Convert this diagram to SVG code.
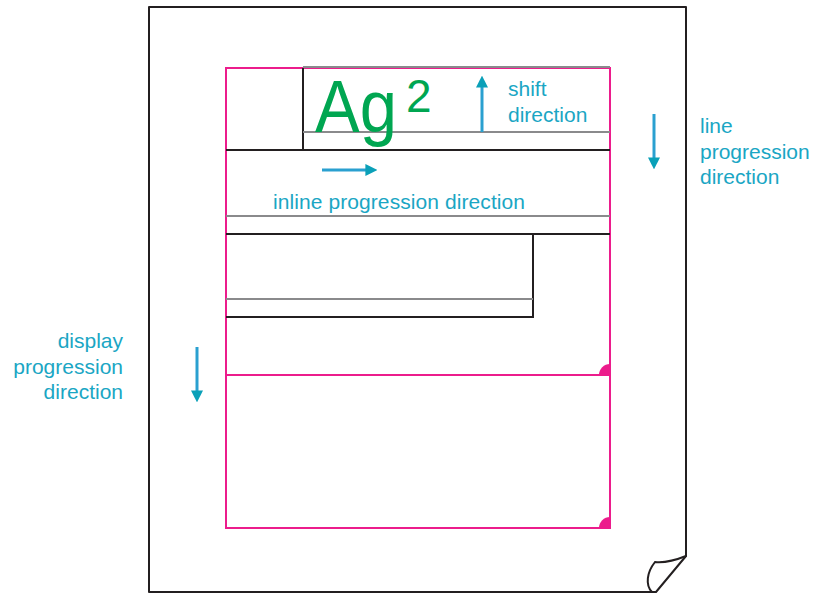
<svg xmlns="http://www.w3.org/2000/svg" width="815" height="594" viewBox="0 0 815 594">
  <defs>
    <style>
      .page { fill: #ffffff; stroke: #231f20; stroke-width: 2; stroke-linejoin: round; }
      .curl { fill: none; stroke: #231f20; stroke-width: 2; stroke-linecap: round; }
      .area { fill: none; stroke: #ec1c8c; stroke-width: 2; }
      .corner { fill: #ec1c8c; }
      .blk { fill: none; stroke: #231f20; stroke-width: 2; }
      .base { fill: none; stroke: #8a8a8c; stroke-width: 2; }
      .arrow { fill: none; stroke: #2aa0d0; stroke-width: 3; marker-end: url(#head); }
      .lbl { font-family: "Liberation Sans", Arial, sans-serif; font-size: 21px; fill: #1aa6c4; }
      .glyph { font-family: "Liberation Sans", Arial, sans-serif; fill: #00a651; }
    </style>
    <marker id="head" markerWidth="4" markerHeight="4" refX="1.2" refY="2" orient="auto" markerUnits="strokeWidth">
      <path d="M0,0 L4,2 L0,4 Z" fill="#0aa0b8"/>
    </marker>
  </defs>

  <!-- sheet with curled lower-right corner -->
  <g id="page">
    <path class="page" d="M149,7 H686 V556 L656,592 H149 Z"/>
    <path class="curl" d="M686,556 C676,560 664,563 655,562 C647,572 645,585 652,592"/>
  </g>

  <!-- first display area -->
  <g id="display-area-1">
    <rect class="area" x="226" y="68" width="384" height="307"/>
    <path class="corner" d="M610,375 H599 A11,11 0 0 1 610,364 Z"/>
  </g>

  <!-- second display area -->
  <g id="display-area-2">
    <rect class="area" x="226" y="375" width="384" height="153"/>
    <path class="corner" d="M610,528 H599 A11,11 0 0 1 610,517 Z"/>
  </g>

  <!-- first line area holding the glyph area -->
  <g id="line-area-1">
    <line class="blk" x1="226" y1="150" x2="610" y2="150"/>
  </g>

  <!-- inline area with Ag² on its baseline -->
  <g id="inline-area">
    <line class="base" x1="303" y1="67" x2="610" y2="67"/>
    <line class="blk" x1="303" y1="68" x2="303" y2="150"/>
    <line class="base" x1="303" y1="132" x2="610" y2="132"/>
    <text class="glyph" x="315" y="132" font-size="75" textLength="82" lengthAdjust="spacingAndGlyphs">Ag</text>
    <text class="glyph" x="406" y="112" font-size="46">2</text>
  </g>

  <!-- second line area -->
  <g id="line-area-2">
    <line class="base" x1="226" y1="216" x2="610" y2="216"/>
    <line class="blk" x1="226" y1="234" x2="610" y2="234"/>
  </g>

  <!-- third, shorter line area -->
  <g id="line-area-3">
    <path class="blk" d="M226,234 H533 V317 H226"/>
    <line class="base" x1="226" y1="299" x2="533" y2="299"/>
  </g>

  <!-- direction arrows -->
  <g id="connectors">
    <line class="arrow" x1="482" y1="132" x2="482" y2="84"/>
    <line class="arrow" x1="322" y1="170" x2="369" y2="170"/>
    <line class="arrow" x1="654" y1="114" x2="654" y2="161"/>
    <line class="arrow" x1="197" y1="347" x2="197" y2="394"/>
  </g>

  <!-- labels -->
  <g id="label-shift">
    <text class="lbl" x="508" y="96">shift</text>
    <text class="lbl" x="508" y="122">direction</text>
  </g>
  <g id="label-inline">
    <text class="lbl" x="273" y="209" textLength="252">inline progression direction</text>
  </g>
  <g id="label-line">
    <text class="lbl" x="700" y="133">line</text>
    <text class="lbl" x="700" y="159">progression</text>
    <text class="lbl" x="700" y="184">direction</text>
  </g>
  <g id="label-display">
    <text class="lbl" x="123" y="348" text-anchor="end">display</text>
    <text class="lbl" x="123" y="374" text-anchor="end">progression</text>
    <text class="lbl" x="123" y="399" text-anchor="end">direction</text>
  </g>
</svg>
